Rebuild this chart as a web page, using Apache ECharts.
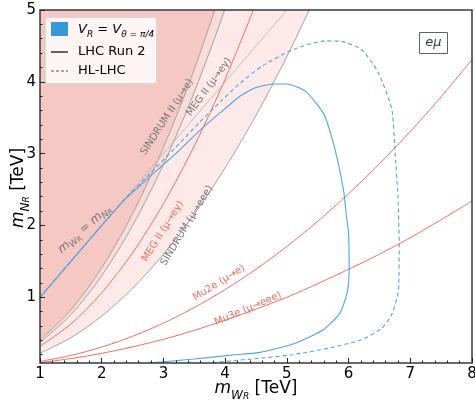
<!DOCTYPE html>
<html><head><meta charset="utf-8">
<script src="https://cdn.jsdelivr.net/npm/echarts@6/dist/echarts.min.js"></script>
<style>html,body{margin:0;padding:0;background:#fff}#c{width:475px;height:400px}</style>
</head><body><div id="c"></div>
<script>
// ---- data ----
const curveX      = [1, 1.5, 2, 2.5, 3, 3.5, 4, 4.5, 5, 5.5, 6, 6.5, 7, 7.5, 8];
const sindrum2Y   = [0.405, 0.824, 1.41, 2.164, 3.085, 4.174, 5.43];
const megGreyY    = [0.37, 0.758, 1.30, 1.998, 2.85, 3.858, 5.02, 6.34];
const megRedY     = [0.318, 0.628, 1.062, 1.62, 2.302, 3.108, 4.038, 5.092];
const sindrumEeeY = [0.222, 0.437, 0.738, 1.125, 1.598, 2.157, 2.802, 3.533, 4.35, 5.253];
const mu2eY       = [0.107, 0.19, 0.307, 0.457, 0.64, 0.857, 1.107, 1.391, 1.708, 2.058, 2.441, 2.858, 3.308, 3.792, 4.309];
const mu3eY       = [0.09, 0.147, 0.22, 0.31, 0.415, 0.54, 0.68, 0.835, 1.0, 1.19, 1.39, 1.6, 1.83, 2.08, 2.34];
const diagX       = [1, 5];
const diagY       = [1, 5];
const run2X = [1, 1.5, 2, 2.35, 2.78, 3.2, 3.6, 3.92, 4.24, 4.5, 4.8, 5.0, 5.3, 5.6, 5.78, 5.92, 5.97, 6.0, 6.01, 5.98, 5.86, 5.58, 5.10, 4.54, 4.16, 3.5, 2.75];
const run2Y = [1, 1.5, 2, 2.34, 2.68, 3.0, 3.33, 3.57, 3.8, 3.92, 3.97, 3.97, 3.87, 3.55, 3.06, 2.48, 2.1, 1.9, 1.43, 1.08, 0.78, 0.54, 0.35, 0.23, 0.2, 0.14, 0.085];
const hlX = [1, 2, 2.38, 2.78, 3.19, 3.59, 3.92, 4.24, 4.6, 5.05, 5.38, 5.62, 5.9, 6.21, 6.48, 6.70, 6.75, 6.80, 6.82, 6.81, 6.70, 6.54, 6.21, 5.67, 5.08, 4.43, 4.16, 3.8];
const hlY = [1, 2, 2.37, 2.72, 3.08, 3.44, 3.72, 3.98, 4.22, 4.43, 4.53, 4.57, 4.56, 4.45, 4.13, 3.62, 3.06, 2.40, 1.76, 1.11, 0.76, 0.57, 0.41, 0.29, 0.2, 0.14, 0.12, 0.09];
const xTicks = [1, 2, 3, 4, 5, 6, 7, 8];
const yTicks = [1, 2, 3, 4, 5];
const yMinorTicks = [0.2, 0.4, 0.6, 0.8, 1.2, 1.4, 1.6, 1.8, 2.2, 2.4, 2.6, 2.8, 3.2, 3.4, 3.6, 3.8, 4.2, 4.4, 4.6, 4.8];

// ---- styling / layout ----
const FONT = 'DejaVu Sans';
const pairs = (xs, ys) => ys.map((y, i) => [xs[i], y]);
const cx = (ys) => pairs(curveX, ys);
const GREY = '#a3a3a3', RED = '#ef7064', BLUE = '#4ea4e0';
const YMIN = 0.085, YMAX = 5;

const chart = echarts.init(document.getElementById('c'), null, {renderer: 'canvas'});

function bound(data, lineColor, fill, z) {
  const s = {type: 'line', data, symbol: 'none', silent: true, z: z || 2,
    lineStyle: {color: lineColor, width: 1}, smooth: 0.3};
  if (fill) s.areaStyle = {origin: 'end', color: fill, opacity: 1};
  return s;
}

const subRich = (base, col) => ({
  i: {fontStyle: 'italic', fontSize: base, lineHeight: base + 8, fontFamily: FONT, fill: col},
  n: {fontSize: base, lineHeight: base + 8, fontFamily: FONT, fill: col},
  s: {fontStyle: 'italic', fontSize: Math.round(base * 0.72), lineHeight: Math.round(base * 0.75), verticalAlign: 'bottom', fontFamily: FONT, fill: col},
  ss: {fontStyle: 'italic', fontSize: Math.round(base * 0.55), lineHeight: Math.round(base * 0.45), verticalAlign: 'bottom', fontFamily: FONT, fill: col}
});

const option = {
  animation: false,
  backgroundColor: '#fff',
  grid: {left: 40, right: 3, top: 10, bottom: 37, containLabel: false, outerBoundsMode: 'none',
    show: true, borderColor: '#3a3a3a', borderWidth: 1.5, backgroundColor: 'transparent', z: 10},
  xAxis: {
    type: 'value', min: 1, max: 8, interval: 1,
    axisLine: {show: false},
    axisTick: {show: true, inside: true, length: 5, lineStyle: {color: '#222'}},
    minorTick: {show: true, splitNumber: 5, length: 2.5, lineStyle: {color: '#222'}},
    splitLine: {show: false},
    axisLabel: {fontFamily: FONT, fontSize: 15, color: '#000', margin: 4},
    z: 12
  },
  yAxis: [{
    type: 'value', min: YMIN, max: YMAX,
    axisLine: {show: false},
    axisTick: {show: true, inside: true, length: 5, customValues: yTicks, lineStyle: {color: '#222'}},
    splitLine: {show: false},
    axisLabel: {fontFamily: FONT, fontSize: 15, color: '#000', margin: 4, customValues: yTicks},
    z: 12
  }, {
    type: 'value', min: YMIN, max: YMAX, position: 'left', offset: 0,
    axisLine: {show: false}, axisLabel: {show: false}, splitLine: {show: false},
    axisTick: {show: true, inside: true, length: 2.5, customValues: yMinorTicks, lineStyle: {color: '#222'}},
    z: 12
  }],
  series: [
    bound(cx(sindrumEeeY), GREY, '#fde9e7', 1),
    bound(cx(megGreyY), GREY, '#f9dbd8', 1),
    bound(cx(sindrum2Y), GREY, '#f5c8c4', 1),
    bound(cx(megRedY), RED, null, 3),
    bound(cx(mu2eY), RED, null, 3),
    bound(cx(mu3eY), RED, null, 3),
    {type: 'line', data: pairs(diagX, diagY), symbol: 'none', z: 3, lineStyle: {color: '#b9b0b0', width: 0.8}},
    {type: 'line', data: pairs(run2X, run2Y), symbol: 'none', z: 4, smooth: 0.2, lineStyle: {color: BLUE, width: 1.1}},
    {type: 'line', data: pairs(hlX, hlY), symbol: 'none', z: 4, smooth: 0.2, lineStyle: {color: BLUE, width: 1.1, type: [4, 3]}}
  ]
};
chart.setOption(option);

// curve labels placed in data coordinates
const curveLabels = [
  {t: 'SINDRUM II (\u03bc\u2192e)', at: [3.06, 3.51], a: 57, c: '#777'},
  {t: 'MEG II (\u03bc\u2192e\u03b3)', at: [3.74, 3.93], a: 54, c: '#777'},
  {t: 'MEG II (\u03bc\u2192e\u03b3)', at: [2.99, 1.92], a: 58, c: RED},
  {t: 'SINDRUM (\u03bc\u2192eee)', at: [3.38, 2.0], a: 59, c: '#777'},
  {t: 'Mu2e (\u03bc\u2192e)', at: [3.9, 1.2], a: 32, c: RED},
  {t: 'Mu3e (\u03bc\u2192eee)', at: [4.37, 0.84], a: 23, c: RED}
];
const g = [];
curveLabels.forEach(L => {
  const p = chart.convertToPixel({gridIndex: 0}, L.at);
  g.push({type: 'text', x: p[0], y: p[1], rotation: L.a * Math.PI / 180, z: 20,
    style: {text: L.t, fill: L.c, font: '10px "DejaVu Sans"', align: 'center', verticalAlign: 'middle'}});
});
const dp = chart.convertToPixel({gridIndex: 0}, [1.72, 1.95]);
g.push({type: 'text', x: dp[0], y: dp[1], rotation: 42 * Math.PI / 180, z: 20,
  style: {text: '{i|m}{s|W}{ss|R}{n| = }{i|m}{s|N}{ss|R}', align: 'center', verticalAlign: 'middle',
    rich: {
      i: {fontStyle: 'italic', fontSize: 12, lineHeight: 16, fill: '#777', fontFamily: FONT},
      n: {fontSize: 12, lineHeight: 16, fill: '#777', fontFamily: FONT},
      s: {fontStyle: 'italic', fontSize: 9, lineHeight: 9, verticalAlign: 'bottom', fill: '#777', fontFamily: FONT},
      ss: {fontStyle: 'italic', fontSize: 7, lineHeight: 6, verticalAlign: 'bottom', fill: '#777', fontFamily: FONT}
    }}});
// axis titles
g.push({type: 'text', x: 256, y: 389, z: 20, style: {text: '{i|m}{s|W}{ss|R}{n| [TeV]}', align: 'center', verticalAlign: 'middle', rich: subRich(17, '#000')}});
g.push({type: 'text', x: 19, y: 188, rotation: Math.PI / 2, z: 20, style: {text: '{i|m}{s|N}{ss|R}{n| [TeV]}', align: 'center', verticalAlign: 'middle', rich: subRich(17, '#000')}});
// legend
g.push({type: 'rect', shape: {x: 45.5, y: 17.5, width: 111, height: 66, r: 3}, z: 30,
  style: {fill: 'rgba(255,255,255,0.82)', stroke: '#d8d8d8', lineWidth: 1}});
g.push({type: 'rect', shape: {x: 51, y: 22, width: 17, height: 14}, z: 31, style: {fill: '#3498db'}});
g.push({type: 'text', x: 78, y: 30, z: 31, style: {text: '{i|V}{s|R}{n| = }{i|V}{s|\u03b8 = \u03c0/4}', verticalAlign: 'middle',
  rich: {
    i: {fontStyle: 'italic', fontSize: 13, lineHeight: 18, fill: '#000', fontFamily: FONT},
    n: {fontSize: 13, lineHeight: 18, fill: '#000', fontFamily: FONT},
    s: {fontStyle: 'italic', fontSize: 9, lineHeight: 10, verticalAlign: 'bottom', fill: '#000', fontFamily: FONT}
  }}});
g.push({type: 'line', shape: {x1: 51, y1: 52, x2: 68, y2: 52}, z: 31, style: {stroke: '#000', lineWidth: 1.2}});
g.push({type: 'text', x: 78, y: 52, z: 31, style: {text: 'LHC Run 2', font: '13px "DejaVu Sans"', fill: '#000', verticalAlign: 'middle'}});
g.push({type: 'line', shape: {x1: 51, y1: 71, x2: 68, y2: 71}, z: 31, style: {stroke: '#555', lineWidth: 1.2, lineDash: [3, 2]}});
g.push({type: 'text', x: 78, y: 71, z: 31, style: {text: 'HL-LHC', font: '13px "DejaVu Sans"', fill: '#000', verticalAlign: 'middle'}});
// e-mu tag
g.push({type: 'rect', shape: {x: 419.5, y: 32.5, width: 28, height: 21}, z: 30, style: {fill: '#fff', stroke: '#5a6070', lineWidth: 1}});
g.push({type: 'text', x: 433.5, y: 43, z: 31, style: {text: 'e\u03bc', font: 'italic 13px "DejaVu Sans"', fill: '#333a48', align: 'center', verticalAlign: 'middle'}});
chart.setOption({graphic: g});
</script></body></html>
